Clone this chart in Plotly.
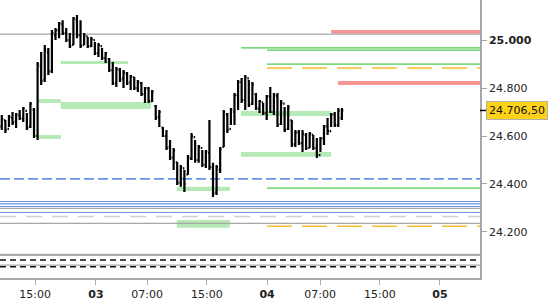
import plotly.graph_objects as go

# ---- price bars (30-min bars) ----
bar_open = [24640, 24665, 24630, 24675, 24660, 24685, 24670, 24705, 24640, 24710,
            24600, 24890, 24835, 24950, 24870, 25020, 25040, 25065, 25030, 25000,
            24980, 25085, 25020, 24980, 25015, 24975, 25000, 24945, 24975, 24925,
            24920, 24875, 24820, 24875, 24840, 24860, 24825, 24845, 24800, 24820,
            24775, 24800, 24745, 24725, 24680, 24635, 24600, 24555, 24510, 24490,
            24405, 24465, 24440, 24505, 24595, 24500, 24550, 24480, 24530, 24470,
            24365, 24460, 24555, 24690, 24630, 24700, 24770, 24825, 24750, 24840,
            24735, 24775, 24715, 24740, 24695, 24765, 24700, 24765, 24650, 24735,
            24630, 24665, 24565, 24615, 24570, 24605, 24550, 24605, 24550, 24520,
            24590, 24640, 24620, 24690, 24645, 24675]
bar_high = [24688, 24667, 24688, 24700, 24696, 24708, 24721, 24696, 24742, 24717,
            24908, 24950, 24979, 24967, 25042, 25050, 25075, 25083, 25050, 25029,
            25096, 25104, 25083, 25029, 25013, 25013, 24992, 24988, 24967, 24950,
            24925, 24908, 24888, 24883, 24875, 24867, 24854, 24846, 24833, 24825,
            24804, 24804, 24792, 24729, 24708, 24638, 24625, 24583, 24550, 24492,
            24479, 24458, 24521, 24613, 24583, 24563, 24542, 24542, 24667, 24488,
            24479, 24554, 24708, 24696, 24717, 24779, 24833, 24842, 24854, 24833,
            24825, 24779, 24750, 24738, 24771, 24804, 24779, 24779, 24750, 24721,
            24729, 24667, 24625, 24625, 24625, 24613, 24617, 24604, 24592, 24596,
            24646, 24675, 24696, 24700, 24717, 24717]
bar_low = [24625, 24613, 24638, 24646, 24633, 24667, 24658, 24625, 24633, 24592,
           24583, 24813, 24825, 24854, 24863, 25000, 25008, 25021, 24992, 24967,
           24979, 25008, 24967, 24979, 24967, 24971, 24938, 24929, 24917, 24904,
           24867, 24813, 24804, 24825, 24800, 24813, 24792, 24792, 24783, 24767,
           24738, 24738, 24742, 24667, 24638, 24596, 24542, 24500, 24458, 24396,
           24388, 24367, 24438, 24500, 24488, 24488, 24471, 24467, 24458, 24346,
           24354, 24446, 24554, 24613, 24646, 24646, 24708, 24738, 24708, 24721,
           24729, 24708, 24696, 24688, 24667, 24696, 24688, 24638, 24646, 24617,
           24625, 24554, 24554, 24563, 24533, 24542, 24550, 24542, 24508, 24533,
           24563, 24604, 24638, 24638, 24638, 24667]
bar_close = [24670, 24625, 24680, 24655, 24690, 24675, 24715, 24635, 24735, 24600,
             24900, 24830, 24960, 24870, 25030, 25040, 25070, 25030, 25000, 24975,
             25090, 25020, 24975, 25020, 24975, 25005, 24945, 24980, 24925, 24945,
             24875, 24820, 24880, 24835, 24865, 24820, 24850, 24800, 24825, 24775,
             24800, 24745, 24785, 24675, 24700, 24600, 24550, 24510, 24540, 24405,
             24470, 24400, 24510, 24600, 24500, 24555, 24480, 24535, 24470, 24360,
             24470, 24545, 24700, 24625, 24710, 24770, 24825, 24750, 24845, 24730,
             24815, 24715, 24745, 24695, 24765, 24700, 24770, 24645, 24740, 24625,
             24720, 24565, 24615, 24570, 24610, 24550, 24610, 24550, 24520, 24590,
             24640, 24620, 24690, 24645, 24705, 24706.5]
bar_index = list(range(len(bar_close)))
last_price = 24706.5

# ---- axis ticks ----
x_tick_labels = ["15:00", "<b>03</b>", "07:00", "15:00", "<b>04</b>", "07:00", "15:00", "<b>05</b>"]
x_tick_bars = [9.3, 26.3, 40.6, 57.3, 74.1, 88.9, 105.6, 122.4]
y_tick_values = [24200, 24400, 24600, 24800, 25000]
y_tick_labels = ["24.200", "24.400", "24.600", "24.800", "<b>25.000</b>"]

# ---- zones / levels ----
green_zone_low = [24900, 24738, 24713, 24588, 24683, 24513, 24371, 24217]
green_zone_high = [24913, 24754, 24742, 24604, 24704, 24533, 24388, 24250]
green_zone_from = [16.5, 10.1, 16.5, 10.1, 66.8, 66.8, 48.9, 48.9]
green_zone_to = [35.3, 16.5, 41.7, 16.5, 92.0, 92.0, 63.7, 63.7]

red_zone_low = [25026, 24813]
red_zone_high = [25042, 24829]
red_zone_from = [92.0, 93.9]

green_levels = [24967, 24958, 24900, 24383]
green_levels_from = [66.8, 74.1, 74.1, 74.1]
orange_levels = [24883, 24224]
orange_levels_from = [74.1, 74.1]
blue_dashed_levels = [24421]
blue_levels = [24327, 24317, 24306, 24281]
grey_levels = [25025, 24298, 24236, 24062]
grey_thick_levels = [24104]
light_dashed_levels = [24264]
black_dashed_levels = [24083, 24055]

X_MIN, X_MAX = -0.5, 133.58
Y_MIN, Y_MAX = 24008, 25167

fig = go.Figure()
fig.add_trace(go.Ohlc(
    x=bar_index, open=bar_open, high=bar_high, low=bar_low, close=bar_close,
    increasing=dict(line=dict(color="black", width=2.2)),
    decreasing=dict(line=dict(color="black", width=2.2)),
    tickwidth=0.4, showlegend=False, hoverinfo="skip"))

shapes = []
def hline(y, x0, color, width, dash="solid"):
    shapes.append(dict(type="line", xref="x", yref="y", x0=x0, x1=X_MAX, y0=y, y1=y,
                       line=dict(color=color, width=width, dash=dash), layer="below"))

for lo, hi, a, b in zip(green_zone_low, green_zone_high, green_zone_from, green_zone_to):
    shapes.append(dict(type="rect", xref="x", yref="y", x0=a, x1=b, y0=lo, y1=hi,
                       fillcolor="#b5e9b5", line=dict(width=0), layer="below"))
for lo, hi, a in zip(red_zone_low, red_zone_high, red_zone_from):
    shapes.append(dict(type="rect", xref="x", yref="y", x0=a, x1=X_MAX, y0=lo, y1=hi,
                       fillcolor="#f79595", line=dict(width=0), layer="below"))
for y in grey_levels:
    hline(y, X_MIN, "#a8a8a8", 1.2)
for y in grey_thick_levels:
    hline(y, X_MIN, "#aaaaaa", 2.2)
for y in light_dashed_levels:
    hline(y, X_MIN, "#cfcfcf", 1.5, "16px,10px")
for y in black_dashed_levels:
    hline(y, X_MIN, "#111111", 1.3, "6px,4px")
for y in blue_levels:
    hline(y, X_MIN, "#6b96e8", 1.2)
for y in blue_dashed_levels:
    hline(y, X_MIN, "#6495ed", 1.8, "10px,4px")
for y, a in zip(green_levels, green_levels_from):
    hline(y, a, "#4fcc4f", 1.3)
for y, a in zip(orange_levels, orange_levels_from):
    hline(y, a, "#fbbc2c", 1.5, "25px,10px")

# small marker for last price on the axis
shapes.append(dict(type="line", xref="paper", yref="y", x0=1.0, x1=1.0125,
                   y0=last_price, y1=last_price, line=dict(color="black", width=1.5)))

fig.update_layout(
    width=550, height=300,
    margin=dict(l=0, r=70, t=0, b=22),
    paper_bgcolor="white", plot_bgcolor="white",
    font=dict(family="DejaVu Sans", size=11, color="#222222"),
    shapes=shapes,
    xaxis=dict(range=[X_MIN, X_MAX], rangeslider=dict(visible=False),
               showgrid=False, zeroline=False, showline=True, linecolor="#a8a8a8",
               linewidth=1.5, tickmode="array", tickvals=x_tick_bars, ticktext=x_tick_labels,
               ticks="outside", ticklen=5, tickcolor="#a8a8a8"),
    yaxis=dict(range=[Y_MIN, Y_MAX], side="right", showgrid=False, zeroline=False,
               showline=True, linecolor="#a8a8a8", linewidth=1.5,
               tickmode="array", tickvals=y_tick_values, ticktext=y_tick_labels,
               ticks="outside", ticklen=5, tickcolor="#a8a8a8"),
    annotations=[dict(xref="paper", yref="y", x=1.0, y=last_price, xanchor="left",
                      xshift=6, yanchor="middle",
                      text="24.706,50", showarrow=False,
                      font=dict(family="DejaVu Sans", size=11, color="#111111"),
                      bgcolor="#ffd21a", bordercolor="#b0b0b0", borderwidth=1, borderpad=2)],
)

fig.write_html("out.html")
